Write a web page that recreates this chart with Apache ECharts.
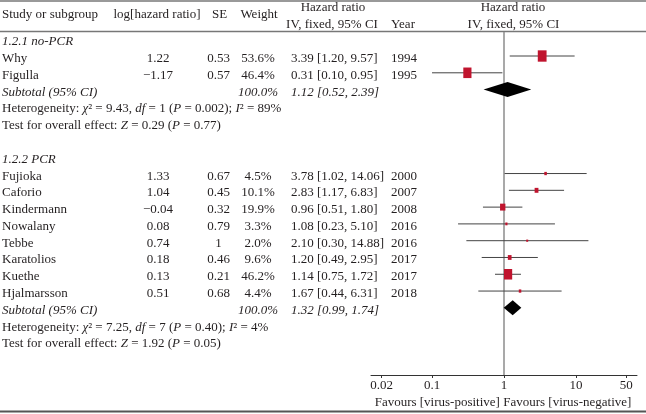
<!DOCTYPE html>
<html><head><meta charset="utf-8">
<script src="https://cdn.jsdelivr.net/npm/echarts@6/dist/echarts.min.js"></script>
<style>html,body{margin:0;padding:0;background:#fff}#c{width:646px;height:414px}</style>
</head><body><div id="c"></div><script>
// ---- Subgroup 1.2.1 no-PCR ----
const g1Title = '1.2.1 no-PCR';
const g1Studies = ['Why', 'Figulla'];
const g1LogHR = ['1.22', '\u22121.17'];
const g1SE = ['0.53', '0.57'];
const g1Weight = [53.6, 46.4];
const g1HR = [3.39, 0.31];
const g1Lo = [1.20, 0.10];
const g1Hi = [9.57, 0.95];
const g1Year = ['1994', '1995'];
const g1Subtotal = [1.12, 0.52, 2.39];
const g1Het = 'Heterogeneity: {i|\u03c7}\u00b2 = 9.43, {i|df} = 1 ({i|P} = 0.002); {i|I}\u00b2 = 89%';
const g1Test = 'Test for overall effect: {i|Z} = 0.29 ({i|P} = 0.77)';

// ---- Subgroup 1.2.2 PCR ----
const g2Title = '1.2.2 PCR';
const g2Studies = ['Fujioka', 'Caforio', 'Kindermann', 'Nowalany', 'Tebbe', 'Karatolios', 'Kuethe', 'Hjalmarsson'];
const g2LogHR = ['1.33', '1.04', '\u22120.04', '0.08', '0.74', '0.18', '0.13', '0.51'];
const g2SE = ['0.67', '0.45', '0.32', '0.79', '1', '0.46', '0.21', '0.68'];
const g2Weight = [4.5, 10.1, 19.9, 3.3, 2.0, 9.6, 46.2, 4.4];
const g2HR = [3.78, 2.83, 0.96, 1.08, 2.10, 1.20, 1.14, 1.67];
const g2Lo = [1.02, 1.17, 0.51, 0.23, 0.30, 0.49, 0.75, 0.44];
const g2Hi = [14.06, 6.83, 1.80, 5.10, 14.88, 2.95, 1.72, 6.31];
const g2Year = ['2000', '2007', '2008', '2016', '2016', '2017', '2017', '2018'];
const g2Subtotal = [1.32, 0.99, 1.74];
const g2Het = 'Heterogeneity: {i|\u03c7}\u00b2 = 7.25, {i|df} = 7 ({i|P} = 0.40); {i|I}\u00b2 = 4%';
const g2Test = 'Test for overall effect: {i|Z} = 1.92 ({i|P} = 0.05)';

// ---- Axis ----
const xTicks = [0.02, 0.1, 1, 10, 50];
const xMin = 0.0142, xMax = 70.4;
const xFooter = 'Favours [virus-positive] Favours [virus-negative]';

// ---------- build rows ----------
const FONT = 'Liberation Serif';
const f2 = v => v.toFixed(2);
const hrText = (h, l, u) => f2(h) + ' [' + f2(l) + ', ' + f2(u) + ']';
const rows = [];
let r = 0;
function addGroup(title, st, lg, se, w, hr, lo, hi, yr, sub, het, test) {
  rows.push({row: r++, kind: 'title', text: title});
  for (let i = 0; i < st.length; i++) {
    rows.push({row: r++, kind: 'study', name: st[i], lg: lg[i], se: se[i], w: w[i], hr: hr[i], lo: lo[i], hi: hi[i], yr: yr[i]});
  }
  rows.push({row: r++, kind: 'sub', hr: sub[0], lo: sub[1], hi: sub[2]});
  rows.push({row: r++, kind: 'note', text: het});
  rows.push({row: r++, kind: 'note', text: test});
}
addGroup(g1Title, g1Studies, g1LogHR, g1SE, g1Weight, g1HR, g1Lo, g1Hi, g1Year, g1Subtotal, g1Het, g1Test);
r++; // blank row
addGroup(g2Title, g2Studies, g2LogHR, g2SE, g2Weight, g2HR, g2Lo, g2Hi, g2Year, g2Subtotal, g2Het, g2Test);

const L = Math.log10;
const studyRows = rows.filter(d => d.kind === 'study');
const subRows = rows.filter(d => d.kind === 'sub');

const ciData = studyRows.map(d => [L(d.lo), L(d.hi), d.row]);
const sqData = studyRows.map(d => [L(d.hr), d.row, d.w]);
const dmData = subRows.map(d => [L(d.lo), L(d.hr), L(d.hi), d.row]);
const tableData = rows.map((d, i) => [0, d.row, i]);

const TXT = '#231f20';
const rich = {i: {fontStyle: 'italic', fontSize: 13, fontFamily: FONT, fill: TXT}};
const COL = {name: 2, lg: 158, se: 218.5, w: 258, hr: 291, yr: 391};
const TEXT_DY = 2.6;

function txt(text, x, y, align, italic) {
  return {type: 'text', style: {text: String(text), x: x, y: y, align: align, verticalAlign: 'middle',
    fontSize: 13, fontFamily: FONT, fontStyle: italic ? 'italic' : 'normal', fill: TXT, rich: rich}};
}

const chart = echarts.init(document.getElementById('c'), null, {renderer: 'canvas'});
chart.setOption({
  animation: false,
  backgroundColor: '#fff',
  grid: {left: 371, right: 9, top: 32, bottom: 39, containLabel: false, outerBoundsMode: 'none'},
  xAxis: {
    type: 'value', min: L(xMin), max: L(xMax), position: 'bottom',
    axisLine: {show: true, onZero: false, lineStyle: {color: '#333', width: 1}},
    axisTick: {show: true, length: 3, customValues: xTicks.map(L), lineStyle: {color: '#333'}},
    axisLabel: {show: true, customValues: xTicks.map(L), margin: 4, fontFamily: FONT, fontSize: 13, color: TXT,
      formatter: v => { const t = xTicks.find(t => Math.abs(L(t) - v) < 1e-6); return t === undefined ? '' : String(t); }},
    splitLine: {show: false}
  },
  yAxis: {type: 'value', inverse: true, min: -0.43, max: 20, show: false, splitLine: {show: false}},
  series: [
    {
      type: 'custom', name: 'ci', data: ciData, encode: {x: [0, 1], y: 2}, z: 2,
      renderItem: (p, api) => {
        const a = api.coord([api.value(0), api.value(2)]);
        const b = api.coord([api.value(1), api.value(2)]);
        return {type: 'line', shape: {x1: a[0], y1: a[1], x2: b[0], y2: b[1]}, style: {stroke: '#444', lineWidth: 1}};
      },
      markLine: {silent: true, z: 1, symbol: 'none', label: {show: false}, animation: false,
        lineStyle: {color: '#8c8c8c', width: 1.5, type: 'solid'}, data: [{xAxis: 0}]}
    },
    {
      type: 'scatter', name: 'hr', data: sqData, symbol: 'rect', z: 3,
      symbolSize: d => { const s = Math.sqrt(d[2]); return [Math.max(2, 1.2 * s), Math.max(2, 1.55 * s)]; },
      itemStyle: {color: '#c0142e', opacity: 1}
    },
    {
      type: 'custom', name: 'diamond', data: dmData, encode: {x: [0, 1, 2], y: 3}, z: 6,
      renderItem: (p, api) => {
        const a = api.coord([api.value(0), api.value(3)]);
        const m = api.coord([api.value(1), api.value(3)]);
        const b = api.coord([api.value(2), api.value(3)]);
        const h = 7.5;
        return {type: 'polygon', shape: {points: [[a[0], a[1]], [m[0], m[1] - h], [b[0], b[1]], [m[0], m[1] + h]]}, style: {fill: '#000'}};
      }
    },
    {
      type: 'custom', name: 'table', data: tableData, encode: {x: 0, y: 1}, clip: false, z: 5,
      renderItem: (p, api) => {
        const d = rows[api.value(2)];
        const y = api.coord([0, d.row])[1] + TEXT_DY;
        const c = [];
        if (d.kind === 'title') c.push(txt(d.text, COL.name, y, 'left', true));
        else if (d.kind === 'note') c.push(txt(d.text, COL.name, y, 'left', false));
        else if (d.kind === 'study') {
          c.push(txt(d.name, COL.name, y, 'left', false));
          c.push(txt(d.lg, COL.lg, y, 'center', false));
          c.push(txt(d.se, COL.se, y, 'center', false));
          c.push(txt(d.w.toFixed(1) + '%', COL.w, y, 'center', false));
          c.push(txt(hrText(d.hr, d.lo, d.hi), COL.hr, y, 'left', false));
          c.push(txt(d.yr, COL.yr, y, 'left', false));
        } else if (d.kind === 'sub') {
          c.push(txt('Subtotal (95% CI)', COL.name, y, 'left', true));
          c.push(txt('100.0%', 278, y, 'right', true));
          c.push(txt(hrText(d.hr, d.lo, d.hi), COL.hr, y, 'left', true));
        }
        return {type: 'group', children: c};
      }
    }
  ],
  graphic: [
    {type: 'line', shape: {x1: 0, y1: 1, x2: 646, y2: 1}, style: {stroke: '#777', lineWidth: 1.5}},
    {type: 'line', shape: {x1: 0, y1: 31.5, x2: 646, y2: 31.5}, style: {stroke: '#777', lineWidth: 1.5}},
    {type: 'line', shape: {x1: 0, y1: 411.5, x2: 646, y2: 411.5}, style: {stroke: '#555', lineWidth: 2}},
    {type: 'text', style: {text: 'Study or subgroup', x: 2, y: 15, align: 'left', verticalAlign: 'middle', fontSize: 13, fontFamily: FONT, fill: TXT}},
    {type: 'text', style: {text: 'log[hazard ratio]', x: 157, y: 15, align: 'center', verticalAlign: 'middle', fontSize: 13, fontFamily: FONT, fill: TXT}},
    {type: 'text', style: {text: 'SE', x: 219.5, y: 15, align: 'center', verticalAlign: 'middle', fontSize: 13, fontFamily: FONT, fill: TXT}},
    {type: 'text', style: {text: 'Weight', x: 259, y: 15, align: 'center', verticalAlign: 'middle', fontSize: 13, fontFamily: FONT, fill: TXT}},
    {type: 'text', style: {text: 'Hazard ratio', x: 333, y: 8, align: 'center', verticalAlign: 'middle', fontSize: 13, fontFamily: FONT, fill: TXT}},
    {type: 'text', style: {text: 'IV, fixed, 95% CI', x: 332, y: 24.5, align: 'center', verticalAlign: 'middle', fontSize: 13, fontFamily: FONT, fill: TXT}},
    {type: 'text', style: {text: 'Year', x: 391, y: 24.5, align: 'left', verticalAlign: 'middle', fontSize: 13, fontFamily: FONT, fill: TXT}},
    {type: 'text', style: {text: 'Hazard ratio', x: 513, y: 8, align: 'center', verticalAlign: 'middle', fontSize: 13, fontFamily: FONT, fill: TXT}},
    {type: 'text', style: {text: 'IV, fixed, 95% CI', x: 513.5, y: 24.5, align: 'center', verticalAlign: 'middle', fontSize: 13, fontFamily: FONT, fill: TXT}},
    {type: 'text', style: {text: xFooter, x: 503, y: 402.5, align: 'center', verticalAlign: 'middle', fontSize: 13, fontFamily: FONT, fill: TXT}}
  ]
});
</script></body></html>
